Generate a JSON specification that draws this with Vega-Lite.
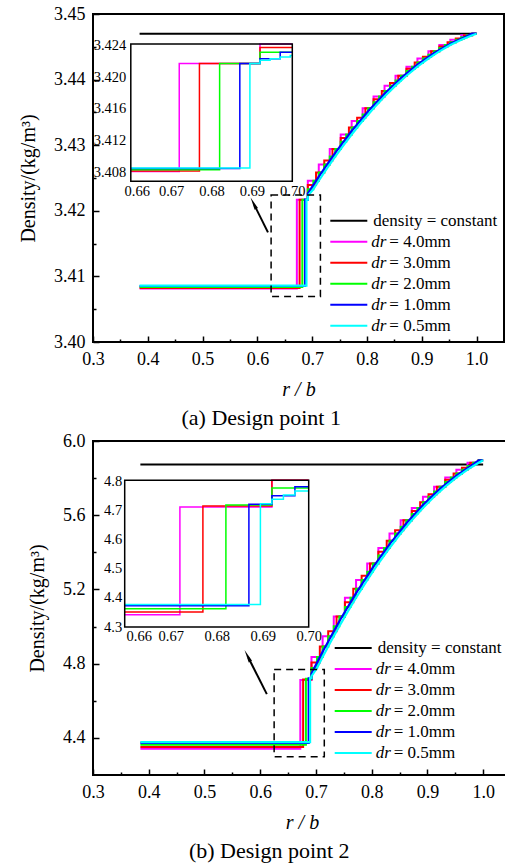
{
  "$schema": "https://vega.github.io/schema/vega-lite/v6.json",
  "background": "white",
  "padding": {"left": 17, "top": 4, "right": 2, "bottom": 2},
  "columns": 1,
  "align": "none",
  "spacing": 1,
  "resolve": {"scale": {"color": "independent", "strokeDash": "independent", "opacity": "independent"}},
  "config": {
    "font": "Liberation Serif",
    "view": {"stroke": "black", "strokeWidth": 2},
    "axis": {"labelFont": "Liberation Serif", "labelFontSize": 18, "labelColor": "black", "titleFont": "Liberation Serif", "titleFontSize": 20, "titleFontWeight": "normal", "titleColor": "black", "domain": false, "grid": false, "tickColor": "black", "tickWidth": 1.5, "labelFlush": false, "labelOverlap": false},
    "legend": {"orient": "none", "padding": 0, "labelFont": "Liberation Serif", "labelFontSize": 17, "labelColor": "black", "symbolType": "stroke", "symbolSize": 1369, "symbolStrokeWidth": 2, "labelOffset": 5, "rowPadding": 2, "clipHeight": 19, "labelLimit": 300},
    "title": {"font": "Liberation Serif", "fontSize": 22, "fontWeight": "normal", "color": "black"}
  },
  "datasets": {
    "m1": [
      {"series":"constant","r_b":0.385,"density":3.447},{"series":"constant","r_b":1.0,"density":3.447},
      {"series":"4.0","r_b":0.385,"density":3.40817},{"series":"4.0","r_b":0.672,"density":3.4217},{"series":"4.0","r_b":0.692,"density":3.42458},{"series":"4.0","r_b":0.712,"density":3.42707},{"series":"4.0","r_b":0.732,"density":3.42942},{"series":"4.0","r_b":0.752,"density":3.43163},{"series":"4.0","r_b":0.772,"density":3.4337},{"series":"4.0","r_b":0.792,"density":3.43563},{"series":"4.0","r_b":0.812,"density":3.43742},{"series":"4.0","r_b":0.832,"density":3.43908},{"series":"4.0","r_b":0.852,"density":3.44059},{"series":"4.0","r_b":0.872,"density":3.44197},{"series":"4.0","r_b":0.892,"density":3.44321},{"series":"4.0","r_b":0.912,"density":3.44431},{"series":"4.0","r_b":0.932,"density":3.44527},{"series":"4.0","r_b":0.952,"density":3.44609},{"series":"4.0","r_b":0.972,"density":3.44677},{"series":"4.0","r_b":0.992,"density":3.447},{"series":"4.0","r_b":1.0,"density":3.447},
      {"series":"3.0","r_b":0.385,"density":3.40825},{"series":"3.0","r_b":0.677,"density":3.4217},{"series":"3.0","r_b":0.692,"density":3.42393},{"series":"3.0","r_b":0.707,"density":3.42584},{"series":"3.0","r_b":0.722,"density":3.42767},{"series":"3.0","r_b":0.737,"density":3.42942},{"series":"3.0","r_b":0.752,"density":3.43109},{"series":"3.0","r_b":0.767,"density":3.43268},{"series":"3.0","r_b":0.782,"density":3.4342},{"series":"3.0","r_b":0.797,"density":3.43563},{"series":"3.0","r_b":0.812,"density":3.43699},{"series":"3.0","r_b":0.827,"density":3.43827},{"series":"3.0","r_b":0.842,"density":3.43947},{"series":"3.0","r_b":0.857,"density":3.44059},{"series":"3.0","r_b":0.872,"density":3.44164},{"series":"3.0","r_b":0.887,"density":3.44261},{"series":"3.0","r_b":0.902,"density":3.4435},{"series":"3.0","r_b":0.917,"density":3.44431},{"series":"3.0","r_b":0.932,"density":3.44504},{"series":"3.0","r_b":0.947,"density":3.44569},{"series":"3.0","r_b":0.962,"density":3.44627},{"series":"3.0","r_b":0.977,"density":3.44677},{"series":"3.0","r_b":0.992,"density":3.447},{"series":"3.0","r_b":1.0,"density":3.447},
      {"series":"2.0","r_b":0.385,"density":3.40838},{"series":"2.0","r_b":0.682,"density":3.4217},{"series":"2.0","r_b":0.692,"density":3.42328},{"series":"2.0","r_b":0.702,"density":3.42458},{"series":"2.0","r_b":0.712,"density":3.42584},{"series":"2.0","r_b":0.722,"density":3.42707},{"series":"2.0","r_b":0.732,"density":3.42826},{"series":"2.0","r_b":0.742,"density":3.42942},{"series":"2.0","r_b":0.752,"density":3.43054},{"series":"2.0","r_b":0.762,"density":3.43163},{"series":"2.0","r_b":0.772,"density":3.43268},{"series":"2.0","r_b":0.782,"density":3.4337},{"series":"2.0","r_b":0.792,"density":3.43468},{"series":"2.0","r_b":0.802,"density":3.43563},{"series":"2.0","r_b":0.812,"density":3.43654},{"series":"2.0","r_b":0.822,"density":3.43742},{"series":"2.0","r_b":0.832,"density":3.43827},{"series":"2.0","r_b":0.842,"density":3.43908},{"series":"2.0","r_b":0.852,"density":3.43985},{"series":"2.0","r_b":0.862,"density":3.44059},{"series":"2.0","r_b":0.872,"density":3.4413},{"series":"2.0","r_b":0.882,"density":3.44197},{"series":"2.0","r_b":0.892,"density":3.44261},{"series":"2.0","r_b":0.902,"density":3.44321},{"series":"2.0","r_b":0.912,"density":3.44377},{"series":"2.0","r_b":0.922,"density":3.44431},{"series":"2.0","r_b":0.932,"density":3.4448},{"series":"2.0","r_b":0.942,"density":3.44527},{"series":"2.0","r_b":0.952,"density":3.44569},{"series":"2.0","r_b":0.962,"density":3.44609},{"series":"2.0","r_b":0.972,"density":3.44644},{"series":"2.0","r_b":0.982,"density":3.44677},{"series":"2.0","r_b":0.992,"density":3.447},{"series":"2.0","r_b":1.0,"density":3.447},
      {"series":"1.0","r_b":0.385,"density":3.40854},{"series":"1.0","r_b":0.687,"density":3.40854},{"series":"1.0","r_b":0.687,"density":3.4217},{"series":"1.0","r_b":0.692,"density":3.4217},{"series":"1.0","r_b":0.692,"density":3.42262},{"series":"1.0","r_b":0.697,"density":3.42328},{"series":"1.0","r_b":0.712,"density":3.42521},{"series":"1.0","r_b":0.742,"density":3.42884},{"series":"1.0","r_b":0.772,"density":3.43216},{"series":"1.0","r_b":0.802,"density":3.43516},{"series":"1.0","r_b":0.832,"density":3.43785},{"series":"1.0","r_b":0.862,"density":3.44023},{"series":"1.0","r_b":0.892,"density":3.44229},{"series":"1.0","r_b":0.922,"density":3.44404},{"series":"1.0","r_b":0.952,"density":3.44548},{"series":"1.0","r_b":0.982,"density":3.44661},{"series":"1.0","r_b":0.992,"density":3.447},{"series":"1.0","r_b":1.0,"density":3.447},
      {"series":"0.5","r_b":0.385,"density":3.4086},{"series":"0.5","r_b":0.6895,"density":3.4086},{"series":"0.5","r_b":0.6895,"density":3.4217},{"series":"0.5","r_b":0.692,"density":3.4217},{"series":"0.5","r_b":0.692,"density":3.42229},{"series":"0.5","r_b":0.702,"density":3.42328},{"series":"0.5","r_b":0.712,"density":3.42458},{"series":"0.5","r_b":0.727,"density":3.42646},{"series":"0.5","r_b":0.742,"density":3.42826},{"series":"0.5","r_b":0.757,"density":3.42998},{"series":"0.5","r_b":0.772,"density":3.43163},{"series":"0.5","r_b":0.792,"density":3.4337},{"series":"0.5","r_b":0.812,"density":3.43563},{"series":"0.5","r_b":0.832,"density":3.43742},{"series":"0.5","r_b":0.852,"density":3.43908},{"series":"0.5","r_b":0.872,"density":3.44059},{"series":"0.5","r_b":0.892,"density":3.44197},{"series":"0.5","r_b":0.912,"density":3.44321},{"series":"0.5","r_b":0.932,"density":3.44431},{"series":"0.5","r_b":0.952,"density":3.44527},{"series":"0.5","r_b":0.972,"density":3.44609},{"series":"0.5","r_b":0.992,"density":3.44677},{"series":"0.5","r_b":1.0,"density":3.447}
    ],
    "i1": [
      {"series":"4.0","r_b":0.66,"density":3.40817},{"series":"4.0","r_b":0.672,"density":3.4217},{"series":"4.0","r_b":0.692,"density":3.42458},{"series":"4.0","r_b":0.70,"density":3.42458},
      {"series":"3.0","r_b":0.66,"density":3.40825},{"series":"3.0","r_b":0.677,"density":3.4217},{"series":"3.0","r_b":0.692,"density":3.4237},{"series":"3.0","r_b":0.70,"density":3.4237},
      {"series":"2.0","r_b":0.66,"density":3.40838},{"series":"2.0","r_b":0.682,"density":3.4217},{"series":"2.0","r_b":0.692,"density":3.4231},{"series":"2.0","r_b":0.70,"density":3.4231},
      {"series":"1.0","r_b":0.66,"density":3.40854},{"series":"1.0","r_b":0.687,"density":3.4217},{"series":"1.0","r_b":0.692,"density":3.4223},{"series":"1.0","r_b":0.697,"density":3.4231},{"series":"1.0","r_b":0.70,"density":3.4231},
      {"series":"0.5","r_b":0.66,"density":3.4086},{"series":"0.5","r_b":0.6895,"density":3.4217},{"series":"0.5","r_b":0.692,"density":3.4221},{"series":"0.5","r_b":0.6945,"density":3.4223},{"series":"0.5","r_b":0.697,"density":3.4225},{"series":"0.5","r_b":0.6995,"density":3.4227},{"series":"0.5","r_b":0.70,"density":3.4227}
    ],
    "m2": [
      {"series":"constant","r_b":0.385,"density":5.873},{"series":"constant","r_b":1.0,"density":5.873},
      {"series":"4.0","r_b":0.385,"density":4.342},{"series":"4.0","r_b":0.672,"density":4.712},{"series":"4.0","r_b":0.692,"density":4.8356},{"series":"4.0","r_b":0.712,"density":4.948},{"series":"4.0","r_b":0.732,"density":5.0547},{"series":"4.0","r_b":0.752,"density":5.1555},{"series":"4.0","r_b":0.772,"density":5.2506},{"series":"4.0","r_b":0.792,"density":5.3399},{"series":"4.0","r_b":0.812,"density":5.4234},{"series":"4.0","r_b":0.832,"density":5.5011},{"series":"4.0","r_b":0.852,"density":5.573},{"series":"4.0","r_b":0.872,"density":5.6391},{"series":"4.0","r_b":0.892,"density":5.6994},{"series":"4.0","r_b":0.912,"density":5.7539},{"series":"4.0","r_b":0.932,"density":5.8027},{"series":"4.0","r_b":0.952,"density":5.8456},{"series":"4.0","r_b":0.972,"density":5.8828},{"series":"4.0","r_b":0.992,"density":5.896},{"series":"4.0","r_b":1.0,"density":5.896},
      {"series":"3.0","r_b":0.385,"density":4.3515},{"series":"3.0","r_b":0.677,"density":4.715},{"series":"3.0","r_b":0.692,"density":4.8065},{"series":"3.0","r_b":0.707,"density":4.8925},{"series":"3.0","r_b":0.722,"density":4.9752},{"series":"3.0","r_b":0.737,"density":5.0547},{"series":"3.0","r_b":0.752,"density":5.1309},{"series":"3.0","r_b":0.767,"density":5.2038},{"series":"3.0","r_b":0.782,"density":5.2735},{"series":"3.0","r_b":0.797,"density":5.3399},{"series":"3.0","r_b":0.812,"density":5.403},{"series":"3.0","r_b":0.827,"density":5.4629},{"series":"3.0","r_b":0.842,"density":5.5196},{"series":"3.0","r_b":0.857,"density":5.573},{"series":"3.0","r_b":0.872,"density":5.6231},{"series":"3.0","r_b":0.887,"density":5.67},{"series":"3.0","r_b":0.902,"density":5.7136},{"series":"3.0","r_b":0.917,"density":5.7539},{"series":"3.0","r_b":0.932,"density":5.791},{"series":"3.0","r_b":0.947,"density":5.8249},{"series":"3.0","r_b":0.962,"density":5.8554},{"series":"3.0","r_b":0.977,"density":5.8828},{"series":"3.0","r_b":0.992,"density":5.896},{"series":"3.0","r_b":1.0,"density":5.896},
      {"series":"2.0","r_b":0.385,"density":4.363},{"series":"2.0","r_b":0.682,"density":4.719},{"series":"2.0","r_b":0.692,"density":4.7771},{"series":"2.0","r_b":0.702,"density":4.8356},{"series":"2.0","r_b":0.712,"density":4.8925},{"series":"2.0","r_b":0.722,"density":4.948},{"series":"2.0","r_b":0.732,"density":5.002},{"series":"2.0","r_b":0.742,"density":5.0547},{"series":"2.0","r_b":0.752,"density":5.1058},{"series":"2.0","r_b":0.762,"density":5.1555},{"series":"2.0","r_b":0.772,"density":5.2038},{"series":"2.0","r_b":0.782,"density":5.2506},{"series":"2.0","r_b":0.792,"density":5.296},{"series":"2.0","r_b":0.802,"density":5.3399},{"series":"2.0","r_b":0.812,"density":5.3823},{"series":"2.0","r_b":0.822,"density":5.4234},{"series":"2.0","r_b":0.832,"density":5.4629},{"series":"2.0","r_b":0.842,"density":5.5011},{"series":"2.0","r_b":0.852,"density":5.5377},{"series":"2.0","r_b":0.862,"density":5.573},{"series":"2.0","r_b":0.872,"density":5.6067},{"series":"2.0","r_b":0.882,"density":5.6391},{"series":"2.0","r_b":0.892,"density":5.67},{"series":"2.0","r_b":0.902,"density":5.6994},{"series":"2.0","r_b":0.912,"density":5.7274},{"series":"2.0","r_b":0.922,"density":5.7539},{"series":"2.0","r_b":0.932,"density":5.779},{"series":"2.0","r_b":0.942,"density":5.8027},{"series":"2.0","r_b":0.952,"density":5.8249},{"series":"2.0","r_b":0.962,"density":5.8456},{"series":"2.0","r_b":0.972,"density":5.8649},{"series":"2.0","r_b":0.982,"density":5.8828},{"series":"2.0","r_b":0.992,"density":5.896},{"series":"2.0","r_b":1.0,"density":5.896},
      {"series":"1.0","r_b":0.385,"density":4.373},{"series":"1.0","r_b":0.687,"density":4.373},{"series":"1.0","r_b":0.687,"density":4.721},{"series":"1.0","r_b":0.692,"density":4.721},{"series":"1.0","r_b":0.692,"density":4.7474},{"series":"1.0","r_b":0.697,"density":4.7771},{"series":"1.0","r_b":0.712,"density":4.8642},{"series":"1.0","r_b":0.742,"density":5.0285},{"series":"1.0","r_b":0.772,"density":5.1798},{"series":"1.0","r_b":0.802,"density":5.3181},{"series":"1.0","r_b":0.832,"density":5.4433},{"series":"1.0","r_b":0.862,"density":5.5555},{"series":"1.0","r_b":0.892,"density":5.6547},{"series":"1.0","r_b":0.922,"density":5.7408},{"series":"1.0","r_b":0.952,"density":5.8139},{"series":"1.0","r_b":0.982,"density":5.874},{"series":"1.0","r_b":0.992,"density":5.896},{"series":"1.0","r_b":1.0,"density":5.896},
      {"series":"0.5","r_b":0.385,"density":4.377},{"series":"0.5","r_b":0.6895,"density":4.377},{"series":"0.5","r_b":0.6895,"density":4.723},{"series":"0.5","r_b":0.692,"density":4.723},{"series":"0.5","r_b":0.692,"density":4.7323},{"series":"0.5","r_b":0.702,"density":4.7771},{"series":"0.5","r_b":0.712,"density":4.8356},{"series":"0.5","r_b":0.727,"density":4.9204},{"series":"0.5","r_b":0.742,"density":5.002},{"series":"0.5","r_b":0.757,"density":5.0804},{"series":"0.5","r_b":0.772,"density":5.1555},{"series":"0.5","r_b":0.792,"density":5.2506},{"series":"0.5","r_b":0.812,"density":5.3399},{"series":"0.5","r_b":0.832,"density":5.4234},{"series":"0.5","r_b":0.852,"density":5.5011},{"series":"0.5","r_b":0.872,"density":5.573},{"series":"0.5","r_b":0.892,"density":5.6391},{"series":"0.5","r_b":0.912,"density":5.6994},{"series":"0.5","r_b":0.932,"density":5.7539},{"series":"0.5","r_b":0.952,"density":5.8027},{"series":"0.5","r_b":0.972,"density":5.8456},{"series":"0.5","r_b":0.992,"density":5.8828},{"series":"0.5","r_b":1.0,"density":5.896}
    ],
    "i2": [
      {"series":"4.0","r_b":0.66,"density":4.342},{"series":"4.0","r_b":0.672,"density":4.712},{"series":"4.0","r_b":0.692,"density":4.8356},{"series":"4.0","r_b":0.70,"density":4.8356},
      {"series":"3.0","r_b":0.66,"density":4.3515},{"series":"3.0","r_b":0.677,"density":4.715},{"series":"3.0","r_b":0.692,"density":4.8065},{"series":"3.0","r_b":0.70,"density":4.8065},
      {"series":"2.0","r_b":0.66,"density":4.363},{"series":"2.0","r_b":0.682,"density":4.719},{"series":"2.0","r_b":0.692,"density":4.777},{"series":"2.0","r_b":0.70,"density":4.777},
      {"series":"1.0","r_b":0.66,"density":4.373},{"series":"1.0","r_b":0.687,"density":4.721},{"series":"1.0","r_b":0.692,"density":4.75},{"series":"1.0","r_b":0.697,"density":4.781},{"series":"1.0","r_b":0.70,"density":4.781},
      {"series":"0.5","r_b":0.66,"density":4.377},{"series":"0.5","r_b":0.6895,"density":4.723},{"series":"0.5","r_b":0.692,"density":4.738},{"series":"0.5","r_b":0.6945,"density":4.753},{"series":"0.5","r_b":0.697,"density":4.767},{"series":"0.5","r_b":0.70,"density":4.767}
    ]
  },
  "concat": [
    {
      "width": 411,
      "height": 328,
      "title": {"text": "(a) Design point 1", "orient": "bottom", "frame": "bounds", "anchor": "middle", "offset": 9},
      "resolve": {"scale": {"x": "independent", "y": "independent"}, "axis": {"x": "independent", "y": "independent"}},
      "layer": [
        {
          "data": {"name": "m1"},
          "resolve": {"axis": {"x": "independent", "y": "independent"}},
          "layer": [
            {
              "transform": [{"filter": "datum.series == 'constant'"}],
              "mark": {"type": "line", "strokeWidth": 2},
              "encoding": {
                "x": {"field": "r_b", "type": "quantitative", "scale": {"domain": [0.3, 1.05], "nice": false, "zero": false}, "axis": {"orient": "bottom", "values": [0.3, 0.4, 0.5, 0.6, 0.7, 0.8, 0.9, 1.0], "format": ".1f", "tickSize": -6, "labelPadding": 14, "title": "r / b", "titleFontStyle": "italic", "titlePadding": 11}},
                "y": {"field": "density", "type": "quantitative", "scale": {"domain": [3.40, 3.45], "nice": false, "zero": false}, "axis": {"orient": "left", "values": [3.40, 3.41, 3.42, 3.43, 3.44, 3.45], "format": ".2f", "tickSize": -6, "labelPadding": 14, "title": "Density/(kg/m³)", "titlePadding": 15}},
                "color": {"field": "series", "type": "nominal", "scale": {"domain": ["constant", "4.0", "3.0", "2.0", "1.0", "0.5"], "range": ["#000000", "#ff00ff", "#ff0000", "#00ff00", "#0000ff", "#00ffff"]}, "legend": {"title": null, "legendX": 236.3, "legendY": 197.2, "labelExpr": "datum.value == 'constant' ? 'density = constant' : ''"}},
                "strokeDash": {"field": "series", "type": "nominal", "scale": {"domain": ["constant", "4.0", "3.0", "2.0", "1.0", "0.5", "-"], "range": [[1, 0], [1, 0], [1, 0], [1, 0], [1, 0], [1, 0], [1, 0]]}, "legend": {"title": null, "legendX": 236.3, "legendY": 197.2, "values": ["constant", "4.0", "3.0", "2.0", "1.0", "0.5"], "symbolOpacity": 0, "symbolStrokeColor": "transparent", "symbolFillColor": "transparent", "symbolStrokeWidth": 0, "labelFontStyle": "italic", "labelExpr": "datum.value == 'constant' ? '' : 'dr'"}},
                "opacity": {"field": "series", "type": "ordinal", "scale": {"domain": ["constant", "4.0", "3.0", "2.0", "1.0", "0.5", "-", "--"], "range": [1, 1, 1, 1, 1, 1, 1, 1]}, "legend": {"title": null, "legendX": 236.3, "legendY": 197.2, "values": ["constant", "4.0", "3.0", "2.0", "1.0", "0.5"], "symbolOpacity": 0, "symbolStrokeColor": "transparent", "symbolFillColor": "transparent", "symbolStrokeWidth": 0, "labelOffset": 23, "labelExpr": "datum.value == 'constant' ? '' : '= ' + datum.value + 'mm'"}}
              }
            },
            {
              "transform": [{"filter": {"field": "series", "oneOf": ["4.0", "3.0", "2.0"]}}],
              "mark": {"type": "line", "interpolate": "step-after", "strokeWidth": 2},
              "encoding": {
                "x": {"field": "r_b", "type": "quantitative", "scale": {"domain": [0.3, 1.05], "nice": false, "zero": false}, "axis": {"orient": "bottom", "values": [0.35, 0.45, 0.55, 0.65, 0.75, 0.85, 0.95], "labels": false, "tickSize": -3, "title": null}},
                "y": {"field": "density", "type": "quantitative", "scale": {"domain": [3.40, 3.45], "nice": false, "zero": false}, "axis": {"orient": "left", "values": [3.405, 3.415, 3.425, 3.435, 3.445], "labels": false, "tickSize": -3, "title": null}},
                "color": {"field": "series", "type": "nominal", "scale": {"domain": ["constant", "4.0", "3.0", "2.0", "1.0", "0.5"], "range": ["#000000", "#ff00ff", "#ff0000", "#00ff00", "#0000ff", "#00ffff"]}, "legend": {"title": null, "legendX": 236.3, "legendY": 197.2, "labelExpr": "datum.value == 'constant' ? 'density = constant' : ''"}}
              }
            },
            {
              "transform": [{"filter": {"field": "series", "oneOf": ["1.0", "0.5"]}}],
              "mark": {"type": "line", "strokeWidth": 2.2},
              "encoding": {
                "x": {"field": "r_b", "type": "quantitative", "scale": {"domain": [0.3, 1.05], "nice": false, "zero": false}, "axis": null},
                "y": {"field": "density", "type": "quantitative", "scale": {"domain": [3.40, 3.45], "nice": false, "zero": false}, "axis": null},
                "color": {"field": "series", "type": "nominal", "scale": {"domain": ["constant", "4.0", "3.0", "2.0", "1.0", "0.5"], "range": ["#000000", "#ff00ff", "#ff0000", "#00ff00", "#0000ff", "#00ffff"]}, "legend": {"title": null, "legendX": 236.3, "legendY": 197.2, "labelExpr": "datum.value == 'constant' ? 'density = constant' : ''"}}
              }
            },
            {
              "data": {"values": [{}]},
              "mark": {"type": "rect", "filled": false, "stroke": "black", "strokeWidth": 1.5, "strokeDash": [7, 5]},
              "encoding": {
                "x": {"datum": 0.625, "scale": {"domain": [0.3, 1.05], "nice": false, "zero": false}, "axis": null},
                "x2": {"datum": 0.715},
                "y": {"datum": 3.40695, "scale": {"domain": [3.40, 3.45], "nice": false, "zero": false}, "axis": null},
                "y2": {"datum": 3.4224}
              }
            },
            {
              "data": {"values": [{}]},
              "mark": {"type": "rule", "stroke": "black", "strokeWidth": 2},
              "encoding": {
                "x": {"datum": 0.6193, "scale": {"domain": [0.3, 1.05], "nice": false, "zero": false}, "axis": null},
                "x2": {"datum": 0.5945},
                "y": {"datum": 3.41671, "scale": {"domain": [3.40, 3.45], "nice": false, "zero": false}, "axis": null},
                "y2": {"datum": 3.42087}
              }
            },
            {
              "data": {"values": [{}]},
              "mark": {"type": "point", "shape": "wedge", "filled": true, "color": "black", "opacity": 1, "size": 220, "angle": 333.6},
              "encoding": {
                "x": {"datum": 0.5945, "scale": {"domain": [0.3, 1.05], "nice": false, "zero": false}, "axis": null},
                "y": {"datum": 3.42087, "scale": {"domain": [3.40, 3.45], "nice": false, "zero": false}, "axis": null}
              }
            }
          ]
        },
        {
          "data": {"name": "i1"},
          "resolve": {"axis": {"x": "independent", "y": "independent"}},
          "layer": [
            {
              "data": {"values": [{}]},
              "mark": {"type": "rect", "fill": "white"},
              "encoding": {
                "x": {"datum": 0.66, "scale": {"domain": [0.66, 0.70], "range": [37.8, 199.3], "nice": false, "zero": false}, "axis": null},
                "x2": {"datum": 0.70},
                "y": {"datum": 3.40695, "scale": {"domain": [3.40695, 3.42413], "range": [167.3, 30], "nice": false, "zero": false, "clamp": true}, "axis": null},
                "y2": {"datum": 3.42413}
              }
            },
            {
              "mark": {"type": "line", "interpolate": "step-after", "strokeWidth": 1.5},
              "encoding": {
                "x": {"field": "r_b", "type": "quantitative", "scale": {"domain": [0.66, 0.70], "range": [37.8, 199.3], "nice": false, "zero": false}, "axis": {"orient": "bottom", "offset": -160.7, "values": [0.66, 0.67, 0.68, 0.69, 0.70], "format": ".2f", "ticks": false, "labelPadding": 3, "labelFontSize": 14.5, "labelOffset": {"condition": {"test": "datum.value < 0.661", "value": 6}, "value": 0}, "title": null}},
                "y": {"field": "density", "type": "quantitative", "scale": {"domain": [3.40695, 3.42413], "range": [167.3, 30], "nice": false, "zero": false, "clamp": true}, "axis": {"orient": "left", "offset": -37.8, "values": [3.408, 3.412, 3.416, 3.420, 3.424], "format": ".3f", "ticks": false, "labelPadding": 5, "labelFontSize": 14.5, "title": null}},
                "color": {"field": "series", "type": "nominal", "scale": {"domain": ["constant", "4.0", "3.0", "2.0", "1.0", "0.5"], "range": ["#000000", "#ff00ff", "#ff0000", "#00ff00", "#0000ff", "#00ffff"]}, "legend": {"title": null, "legendX": 236.3, "legendY": 197.2, "labelExpr": "datum.value == 'constant' ? 'density = constant' : ''"}}
              }
            },
            {
              "data": {"values": [{}]},
              "mark": {"type": "rect", "filled": false, "stroke": "black", "strokeWidth": 1.5},
              "encoding": {
                "x": {"datum": 0.66, "scale": {"domain": [0.66, 0.70], "range": [37.8, 199.3], "nice": false, "zero": false}, "axis": null},
                "x2": {"datum": 0.70},
                "y": {"datum": 3.40695, "scale": {"domain": [3.40695, 3.42413], "range": [167.3, 30], "nice": false, "zero": false, "clamp": true}, "axis": null},
                "y2": {"datum": 3.42413}
              }
            }
          ]
        }
      ]
    },
    {
      "width": 418,
      "height": 334,
      "title": {"text": "(b) Design point 2", "orient": "bottom", "frame": "bounds", "anchor": "middle", "offset": 9},
      "resolve": {"scale": {"x": "independent", "y": "independent"}, "axis": {"x": "independent", "y": "independent"}},
      "layer": [
        {
          "data": {"name": "m2"},
          "resolve": {"axis": {"x": "independent", "y": "independent"}},
          "layer": [
            {
              "transform": [{"filter": "datum.series == 'constant'"}],
              "mark": {"type": "line", "strokeWidth": 2},
              "encoding": {
                "x": {"field": "r_b", "type": "quantitative", "scale": {"domain": [0.3, 1.05], "nice": false, "zero": false}, "axis": {"orient": "bottom", "values": [0.3, 0.4, 0.5, 0.6, 0.7, 0.8, 0.9, 1.0], "format": ".1f", "tickSize": -6, "labelPadding": 14, "title": "r / b", "titleFontStyle": "italic", "titlePadding": 11}},
                "y": {"field": "density", "type": "quantitative", "scale": {"domain": [4.2, 6.0], "nice": false, "zero": false}, "axis": {"orient": "left", "values": [4.4, 4.8, 5.2, 5.6, 6.0], "format": ".1f", "tickSize": -6, "labelPadding": 14, "title": "Density/(kg/m³)", "titlePadding": 15}},
                "color": {"field": "series", "type": "nominal", "scale": {"domain": ["constant", "4.0", "3.0", "2.0", "1.0", "0.5"], "range": ["#000000", "#ff00ff", "#ff0000", "#00ff00", "#0000ff", "#00ffff"]}, "legend": {"title": null, "legendX": 240.7, "legendY": 197.5, "labelExpr": "datum.value == 'constant' ? 'density = constant' : ''"}},
                "strokeDash": {"field": "series", "type": "nominal", "scale": {"domain": ["constant", "4.0", "3.0", "2.0", "1.0", "0.5", "-"], "range": [[1, 0], [1, 0], [1, 0], [1, 0], [1, 0], [1, 0], [1, 0]]}, "legend": {"title": null, "legendX": 240.7, "legendY": 197.5, "values": ["constant", "4.0", "3.0", "2.0", "1.0", "0.5"], "symbolOpacity": 0, "symbolStrokeColor": "transparent", "symbolFillColor": "transparent", "symbolStrokeWidth": 0, "labelFontStyle": "italic", "labelExpr": "datum.value == 'constant' ? '' : 'dr'"}},
                "opacity": {"field": "series", "type": "ordinal", "scale": {"domain": ["constant", "4.0", "3.0", "2.0", "1.0", "0.5", "-", "--"], "range": [1, 1, 1, 1, 1, 1, 1, 1]}, "legend": {"title": null, "legendX": 240.7, "legendY": 197.5, "values": ["constant", "4.0", "3.0", "2.0", "1.0", "0.5"], "symbolOpacity": 0, "symbolStrokeColor": "transparent", "symbolFillColor": "transparent", "symbolStrokeWidth": 0, "labelOffset": 23, "labelExpr": "datum.value == 'constant' ? '' : '= ' + datum.value + 'mm'"}}
              }
            },
            {
              "transform": [{"filter": {"field": "series", "oneOf": ["4.0", "3.0", "2.0"]}}],
              "mark": {"type": "line", "interpolate": "step-after", "strokeWidth": 2},
              "encoding": {
                "x": {"field": "r_b", "type": "quantitative", "scale": {"domain": [0.3, 1.05], "nice": false, "zero": false}, "axis": {"orient": "bottom", "values": [0.35, 0.45, 0.55, 0.65, 0.75, 0.85, 0.95], "labels": false, "tickSize": -3, "title": null}},
                "y": {"field": "density", "type": "quantitative", "scale": {"domain": [4.2, 6.0], "nice": false, "zero": false}, "axis": {"orient": "left", "values": [4.6, 5.0, 5.4, 5.8], "labels": false, "tickSize": -3, "title": null}},
                "color": {"field": "series", "type": "nominal", "scale": {"domain": ["constant", "4.0", "3.0", "2.0", "1.0", "0.5"], "range": ["#000000", "#ff00ff", "#ff0000", "#00ff00", "#0000ff", "#00ffff"]}, "legend": {"title": null, "legendX": 240.7, "legendY": 197.5, "labelExpr": "datum.value == 'constant' ? 'density = constant' : ''"}}
              }
            },
            {
              "transform": [{"filter": {"field": "series", "oneOf": ["1.0", "0.5"]}}],
              "mark": {"type": "line", "strokeWidth": 2.2},
              "encoding": {
                "x": {"field": "r_b", "type": "quantitative", "scale": {"domain": [0.3, 1.05], "nice": false, "zero": false}, "axis": null},
                "y": {"field": "density", "type": "quantitative", "scale": {"domain": [4.2, 6.0], "nice": false, "zero": false}, "axis": null},
                "color": {"field": "series", "type": "nominal", "scale": {"domain": ["constant", "4.0", "3.0", "2.0", "1.0", "0.5"], "range": ["#000000", "#ff00ff", "#ff0000", "#00ff00", "#0000ff", "#00ffff"]}, "legend": {"title": null, "legendX": 240.7, "legendY": 197.5, "labelExpr": "datum.value == 'constant' ? 'density = constant' : ''"}}
              }
            },
            {
              "data": {"values": [{}]},
              "mark": {"type": "rect", "filled": false, "stroke": "black", "strokeWidth": 1.5, "strokeDash": [7, 5]},
              "encoding": {
                "x": {"datum": 0.625, "scale": {"domain": [0.3, 1.05], "nice": false, "zero": false}, "axis": null},
                "x2": {"datum": 0.715},
                "y": {"datum": 4.298, "scale": {"domain": [4.2, 6.0], "nice": false, "zero": false}, "axis": null},
                "y2": {"datum": 4.768}
              }
            },
            {
              "data": {"values": [{}]},
              "mark": {"type": "rule", "stroke": "black", "strokeWidth": 2},
              "encoding": {
                "x": {"datum": 0.6119, "scale": {"domain": [0.3, 1.05], "nice": false, "zero": false}, "axis": null},
                "x2": {"datum": 0.5789},
                "y": {"datum": 4.636, "scale": {"domain": [4.2, 6.0], "nice": false, "zero": false}, "axis": null},
                "y2": {"datum": 4.832}
              }
            },
            {
              "data": {"values": [{}]},
              "mark": {"type": "point", "shape": "wedge", "filled": true, "color": "black", "opacity": 1, "size": 220, "angle": 333.1},
              "encoding": {
                "x": {"datum": 0.5789, "scale": {"domain": [0.3, 1.05], "nice": false, "zero": false}, "axis": null},
                "y": {"datum": 4.832, "scale": {"domain": [4.2, 6.0], "nice": false, "zero": false}, "axis": null}
              }
            }
          ]
        },
        {
          "data": {"name": "i2"},
          "resolve": {"axis": {"x": "independent", "y": "independent"}},
          "layer": [
            {
              "data": {"values": [{}]},
              "mark": {"type": "rect", "fill": "white"},
              "encoding": {
                "x": {"datum": 0.66, "scale": {"domain": [0.66, 0.70], "range": [31.7, 215.7], "nice": false, "zero": false}, "axis": null},
                "x2": {"datum": 0.70},
                "y": {"datum": 4.3, "scale": {"domain": [4.3, 4.8034], "range": [186, 39.3], "nice": false, "zero": false, "clamp": true}, "axis": null},
                "y2": {"datum": 4.8034}
              }
            },
            {
              "mark": {"type": "line", "interpolate": "step-after", "strokeWidth": 1.5},
              "encoding": {
                "x": {"field": "r_b", "type": "quantitative", "scale": {"domain": [0.66, 0.70], "range": [31.7, 215.7], "nice": false, "zero": false}, "axis": {"orient": "bottom", "offset": -148, "values": [0.66, 0.67, 0.68, 0.69, 0.70], "format": ".2f", "ticks": false, "labelPadding": 2, "labelFontSize": 14.5, "labelOffset": {"condition": {"test": "datum.value < 0.661", "value": 14}, "value": 0}, "title": null}},
                "y": {"field": "density", "type": "quantitative", "scale": {"domain": [4.3, 4.8034], "range": [186, 39.3], "nice": false, "zero": false, "clamp": true}, "axis": {"orient": "left", "offset": -31.7, "values": [4.3, 4.4, 4.5, 4.6, 4.7, 4.8], "format": ".1f", "ticks": false, "labelPadding": 3, "labelFontSize": 14.5, "title": null}},
                "color": {"field": "series", "type": "nominal", "scale": {"domain": ["constant", "4.0", "3.0", "2.0", "1.0", "0.5"], "range": ["#000000", "#ff00ff", "#ff0000", "#00ff00", "#0000ff", "#00ffff"]}, "legend": {"title": null, "legendX": 240.7, "legendY": 197.5, "labelExpr": "datum.value == 'constant' ? 'density = constant' : ''"}}
              }
            },
            {
              "data": {"values": [{}]},
              "mark": {"type": "rect", "filled": false, "stroke": "black", "strokeWidth": 1.5},
              "encoding": {
                "x": {"datum": 0.66, "scale": {"domain": [0.66, 0.70], "range": [31.7, 215.7], "nice": false, "zero": false}, "axis": null},
                "x2": {"datum": 0.70},
                "y": {"datum": 4.3, "scale": {"domain": [4.3, 4.8034], "range": [186, 39.3], "nice": false, "zero": false, "clamp": true}, "axis": null},
                "y2": {"datum": 4.8034}
              }
            }
          ]
        }
      ]
    }
  ]
}
